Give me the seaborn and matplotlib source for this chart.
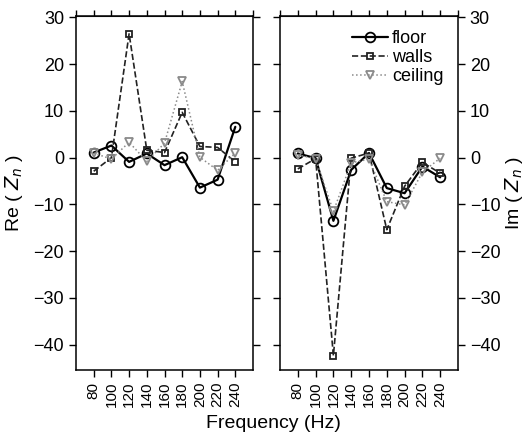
import pandas as pd
import matplotlib
matplotlib.use("Agg")
import matplotlib.pyplot as plt
import seaborn as sns

# Frequencies (Hz)
freq = [80, 100, 120, 140, 160, 180, 200, 220, 240]

# Real part of Z_n
re_floor = [1.1, 2.6, -0.9, 0.9, -1.6, 0.1, -6.4, -4.7, 6.6]
re_walls = [-2.9, 0.0, 26.5, 1.6, 1.1, 9.7, 2.4, 2.2, -0.9]
re_ceiling = [1.0, -0.3, 3.3, -0.8, 3.1, 16.3, 0.1, -2.7, 1.0]

# Imaginary part of Z_n
im_floor = [0.9, -0.1, -13.5, -2.6, 1.0, -6.5, -7.6, -1.9, -4.2]
im_walls = [-2.4, -0.2, -42.3, -0.1, 1.0, -15.4, -6.1, -1.0, -3.3]
im_ceiling = [0.6, -0.2, -11.5, -1.1, -0.3, -9.4, -10.1, -3.1, -0.1]

x_ticks = [80, 100, 120, 140, 160, 180, 200, 220, 240]
y_ticks = [30, 20, 10, 0, -10, -20, -30, -40]

sns.set_style("ticks")
plt.rcParams['font.family'] = ['Liberation Sans', 'DejaVu Sans']
plt.rcParams['axes.unicode_minus'] = True
for key in ['text.color', 'axes.labelcolor', 'xtick.color', 'ytick.color']:
    plt.rcParams[key] = 'black'

# series styles: (label, color, linestyle, linewidth, marker, markersize)
styles = [
    ('floor', 'black', '-', 1.6, 'o', 7),
    ('walls', '#222222', '--', 1.2, 's', 5),
    ('ceiling', '#8a8a8a', ':', 1.1, 'v', 6),
]

fig = plt.figure(figsize=(5.31, 4.34), dpi=100)
ax_re = fig.add_axes([76 / 531, 1 - 370 / 434, 177 / 531, 354 / 434])
ax_im = fig.add_axes([280 / 531, 1 - 370 / 434, 178 / 531, 354 / 434])

panels = [
    (ax_re, [re_floor, re_walls, re_ceiling], 'Re ( $Z_n$ )', 'left'),
    (ax_im, [im_floor, im_walls, im_ceiling], 'Im ( $Z_n$ )', 'right'),
]

for ax, series, ylabel, side in panels:
    for vals, (label, color, ls, lw, mk, ms) in zip(series, styles):
        df = pd.DataFrame({'freq': freq, 'value': vals})
        sns.lineplot(data=df, x='freq', y='value', ax=ax, color=color,
                     linestyle=ls, linewidth=lw, marker=mk, markersize=ms,
                     markerfacecolor='none', markeredgecolor=color,
                     markeredgewidth=1.3, label=label)

    ax.set_xlim(60, 260)
    ax.set_ylim(-45.4, 30.3)
    ax.set_xticks(x_ticks)
    ax.set_xticklabels([str(v) for v in x_ticks], rotation=90, fontsize=11)
    ax.set_yticks(y_ticks)
    ax.tick_params(axis='both', direction='out', length=5, width=1, colors='black')
    ax.tick_params(axis='y', labelsize=13, left=True, right=True,
                   labelleft=(side == 'left'), labelright=(side == 'right'))
    for s in ax.spines.values():
        s.set_visible(True)
        s.set_linewidth(1.1)
        s.set_color('black')

    # top ticks run across the full frame
    top = ax.secondary_xaxis('top')
    top.set_xticks(list(range(60, 261, 20)))
    top.set_xticklabels([])
    top.tick_params(direction='out', length=4, width=1)

    ax.set_xlabel('')
    if side == 'left':
        ax.set_ylabel(ylabel, fontsize=14, labelpad=6)
        ax.get_legend().remove()
    else:
        ax.yaxis.set_label_position('right')
        ax.set_ylabel(ylabel, fontsize=14, labelpad=2, rotation=90)
        ax.legend(loc='upper right', frameon=False, fontsize=13,
                  handlelength=2.0, handletextpad=0.2, labelspacing=0.1,
                  borderaxespad=0.2, bbox_to_anchor=(0.98, 0.99))

fig.text(273 / 531, 1 - 423 / 434, 'Frequency (Hz)', ha='center', va='center', fontsize=14)

fig.savefig('out.png', dpi=100)
